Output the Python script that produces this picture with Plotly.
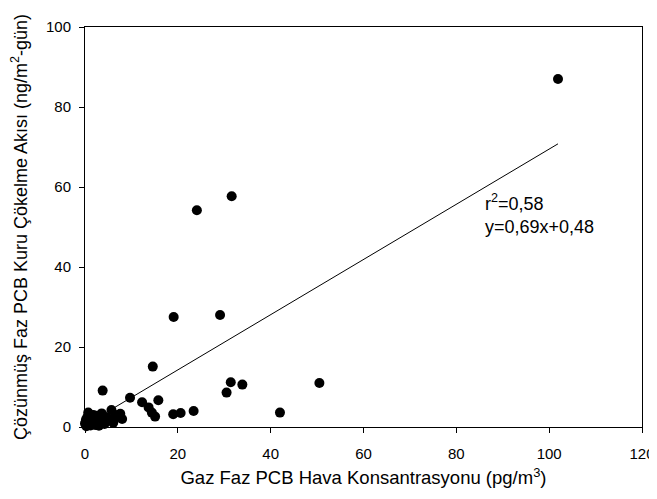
import plotly.graph_objects as go

gas_conc = [101.9, 24.1, 31.6, 19.1, 29.1, 14.6, 50.5, 31.4, 33.9, 30.5,
            42.0, 23.4, 20.6, 19.0, 15.8, 13.7, 14.4, 15.1, 12.3, 9.7, 3.8,
            7.2, 6.1, 5.7, 4.7, 3.6, 4.2, 2.2, 1.4, 0.7, 0.0, 0.3, 1.0, 2.8,
            1.8, 0.5, 3.0, 5.0, 6.5, 8.0, 0.2, 1.2, 2.5, 3.3, 7.6]
dry_flux = [87.0, 54.2, 57.7, 27.5, 28.0, 15.1, 11.0, 11.2, 10.6, 8.6,
            3.6, 4.0, 3.5, 3.2, 6.7, 4.9, 3.6, 2.6, 6.2, 7.3, 9.1,
            2.6, 1.1, 4.25, 2.4, 3.4, 0.75, 0.5, 2.2, 3.6, 0.9, 0.2, 1.5, 1.8,
            3.0, 2.5, 0.3, 1.5, 3.0, 2.0, 1.8, 0.4, 2.8, 1.2, 3.3]

slope = 0.69
intercept = 0.48
x_ticks = [0, 20, 40, 60, 80, 100, 120]
y_ticks = [0, 20, 40, 60, 80, 100]

fit_x = [min(gas_conc), max(gas_conc)]
fit_y = [slope * v + intercept for v in fit_x]

FONT = "Liberation Sans, Arial"

fig = go.Figure()
fig.add_trace(go.Scatter(x=fit_x, y=fit_y, mode="lines",
                         line=dict(color="black", width=1), showlegend=False,
                         cliponaxis=False))
fig.add_trace(go.Scatter(x=gas_conc, y=dry_flux, mode="markers",
                         marker=dict(color="black", size=10), showlegend=False,
                         cliponaxis=False))

fig.add_annotation(x=85.8, y=53.3, xref="x", yref="y", xanchor="left", yanchor="middle",
                   text="r<sup>2</sup>=0,58<br>y=0,69x+0,48", showarrow=False, align="left",
                   font=dict(family=FONT, size=18, color="black"))

axis_common = dict(showgrid=False, zeroline=False, showline=True, linecolor="black",
                   linewidth=1, mirror=True, ticks="outside", ticklen=5, tickcolor="black",
                   automargin=False,
                   tickfont=dict(family=FONT, size=15, color="black"))
fig.update_xaxes(range=[0, 120], tickvals=x_ticks, ticklabelstandoff=8,
                 title=dict(text="Gaz Faz PCB Hava Konsantrasyonu (pg/m<sup>3</sup>)",
                            font=dict(family=FONT, size=18.5, color="black"),
                            standoff=10),
                 **axis_common)
fig.update_yaxes(range=[0, 100], tickvals=y_ticks, ticklabelstandoff=5,
                 title=dict(text="Çözünmüş Faz PCB Kuru Çökelme Akısı (ng/m<sup>2</sup>-gün)",
                            font=dict(family=FONT, size=18, color="black"),
                            standoff=22),
                 **axis_common)
fig.update_layout(width=657, height=499, margin=dict(l=77, r=23, t=19, b=80),
                  plot_bgcolor="white", paper_bgcolor="white")
fig.write_html("out.html")
